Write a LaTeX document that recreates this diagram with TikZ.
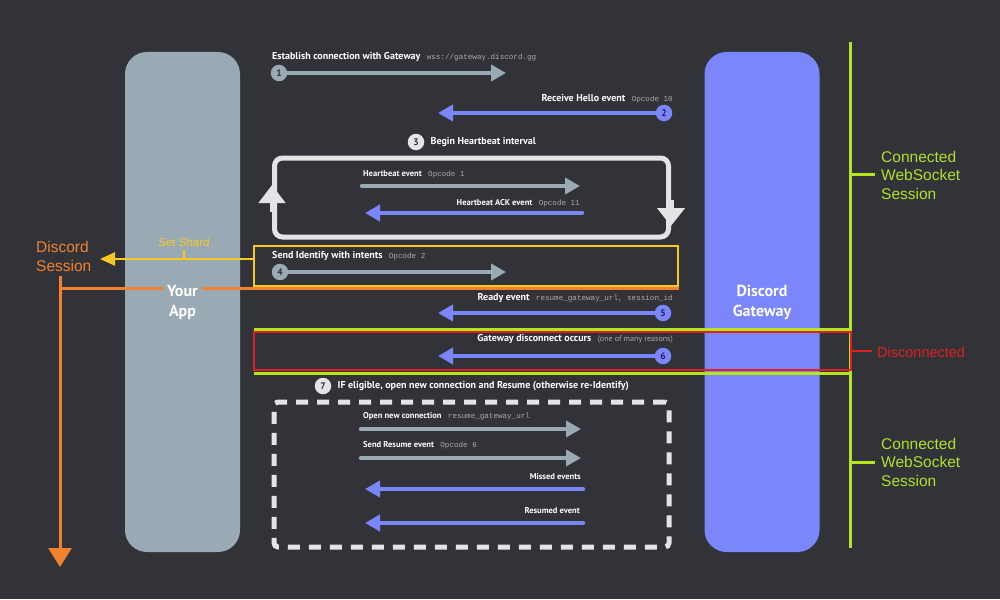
\documentclass[tikz,border=0pt]{standalone}
\usepackage{fontspec}
\setmainfont{PT Sans}
\setmonofont{Liberation Mono}
\newfontfamily\arialfont{Liberation Sans}
\usepackage{xcolor}
\usetikzlibrary{arrows.meta,positioning,calc}
\definecolor{bgdark}{RGB}{50,51,56}
\definecolor{appgray}{RGB}{153,170,181}
\definecolor{blurple}{RGB}{122,134,250}
\definecolor{loopwhite}{RGB}{228,228,228}
\definecolor{codegray}{RGB}{170,170,175}
\definecolor{shardyellow}{RGB}{250,200,35}
\definecolor{sessorange}{RGB}{242,130,45}
\definecolor{wslime}{RGB}{180,230,30}
\definecolor{wstext}{RGB}{175,225,45}
\definecolor{discred}{RGB}{222,32,32}
\definecolor{numdark}{RGB}{45,50,56}
\definecolor{numblue}{RGB}{30,32,110}

\begin{document}
\begin{tikzpicture}[x=1pt, y=-1pt,
  gar/.style={draw=appgray, line width=4.5pt, line cap=round, -{Triangle[width=16pt,length=15pt]}},
  bar/.style={draw=blurple, line width=4.5pt, line cap=round, -{Triangle[width=16pt,length=15pt]}},
  num/.style={circle, inner sep=0pt, minimum size=16.5pt, font=\bfseries\fontsize{9.5}{9.5}\selectfont},
  lbl/.style={text=white, inner sep=0pt, font=\bfseries\fontsize{10}{11}\selectfont},
  sublbl/.style={text=white, inner sep=0pt, font=\bfseries\fontsize{8.5}{10}\selectfont},
  code/.style={text=codegray, inner sep=0pt, font=\ttfamily\fontsize{7.6}{9}\selectfont},
  column/.style={rounded corners=22pt, minimum width=115pt, minimum height=500pt, inner sep=0pt},
  coltext/.style={text=white, align=center, font=\bfseries\fontsize{16}{20}\selectfont},
  side/.style={anchor=west, align=left, inner sep=0pt, font=\arialfont\fontsize{15.5}{18.5}\selectfont}
]
\fill[bgdark] (0,0) rectangle (1000,599);
\useasboundingbox (0,0) rectangle (1000,599);

\node[column, fill=appgray] (app) at (182.5,302) {};
\node[column, fill=blurple] (gw) at (762,302) {};

\node[draw=shardyellow, line width=2.5pt, minimum width=424pt, minimum height=40pt] (ident) at (466,266) {};
\coordinate (sessturn) at (60,288.5);
\coordinate (sessend) at (60,567);
\coordinate (shardtip) at (100,259);
\draw[sessorange, line width=3pt] (sessturn) -- (ident.south east |- sessturn);
\draw[sessorange, line width=3pt, -{Triangle[width=23pt,length=19pt]}] (60,276) -- (sessend);
\draw[shardyellow, line width=2.5pt, -{Triangle[width=13pt,length=15pt]}] ([yshift=7pt]ident.west) -- (shardtip);
\draw[shardyellow, line width=2pt] (184,259) -- (184,250);
\node[text=shardyellow, inner sep=0pt, font=\arialfont\fontsize{11.5}{12}\selectfont] (shard) at (184,242) {Set Shard};
\node[side, text=sessorange] (dsess) at (36,256.5) {Discord\\Session};

\node[coltext, fill=appgray, inner xsep=4pt, inner ysep=0pt] (apptxt) at (app.center) {Your\\App};
\node[coltext] (gwtxt) at ([yshift=-0.5pt]gw.center) {Discord\\Gateway};

\coordinate (wstop) at (850,42);
\coordinate (wsbot) at (850,548);
\draw[wslime, line width=3pt] (wstop) -- (wsbot);
\draw[wslime, line width=3pt] (254,329) -- (850,329);
\draw[wslime, line width=3pt] (254,373) -- (850,373);
\node[draw=discred, line width=2.5pt, minimum width=597pt, minimum height=38pt] (dis) at (552.5,351) {};
\node[side, text=wstext] (conn1) at (881,175) {Connected\\WebSocket\\Session};
\node[side, text=discred, font=\arialfont\fontsize{14.5}{17}\selectfont] (disc) at (877,352.5) {Disconnected};
\node[side, text=wstext] (conn2) at (881,462) {Connected\\WebSocket\\Session};
\draw[wslime, line width=3pt, shorten >=6pt] (850,174) -- (conn1.west |- 0,174);
\draw[discred, line width=2.5pt, shorten >=5pt] (dis.east) -- (dis.east -| disc.west);
\draw[wslime, line width=3pt, shorten >=6pt] (850,462) -- (conn2.west |- 0,462);

\node[lbl, anchor=base west] (l1) at (272,59.5) {Establish connection with Gateway};
\node[code, anchor=base west, xshift=6pt] at (l1.base east) {wss://gateway.discord.gg};
\node[num, fill=appgray, text=numdark] (n1) at (279,73) {1};
\coordinate (t1) at (506,73);
\draw[gar] (n1.east) -- (t1);

\node[code, anchor=base east] (c2) at (673,101.5) {Opcode 10};
\node[lbl, anchor=base east, xshift=-6pt] (l2) at (c2.base west) {Receive Hello event};
\node[num, fill=blurple, text=numblue] (n2) at (664,113) {2};
\coordinate (t2) at (438,113);
\draw[bar] (n2.west) -- (t2);

\node[num, fill=loopwhite, text=numdark] (n3) at (416,142) {3};
\node[lbl, anchor=west, right=6pt of n3] (l3) {Begin Heartbeat interval};

\node[draw=loopwhite, line width=5pt, rounded corners=8pt, minimum width=394pt, minimum height=79pt] (hb) at (471.5,197.5) {};
\draw[loopwhite, line width=5pt, -{Triangle[width=26pt,length=18pt]}] (hb.west |- 0,212) -- (hb.west |- 0,185);
\draw[loopwhite, line width=5pt, -{Triangle[width=27pt,length=18pt]}] (hb.east |- 0,200) -- (hb.east |- 0,226);
\node[sublbl, anchor=base west] (hb1) at (363,176.5) {Heartbeat event};
\node[code, anchor=base west, xshift=6pt] at (hb1.base east) {Opcode 1};
\coordinate (hbs1) at (362,186);
\coordinate (hbt1) at (580,186);
\draw[gar] (hbs1) -- (hbt1);
\node[code, anchor=base east] (hbc2) at (580,205) {Opcode 11};
\node[sublbl, anchor=base east, xshift=-6pt] (hb2) at (hbc2.base west) {Heartbeat ACK event};
\coordinate (hbs2) at (582,213);
\coordinate (hbt2) at (365,213);
\draw[bar] (hbs2) -- (hbt2);

\node[lbl, anchor=base west] (l4) at (272,258) {Send Identify with intents};
\node[code, anchor=base west, xshift=6pt] at (l4.base east) {Opcode 2};
\node[num, fill=appgray, text=numdark] (n4) at (280,272) {4};
\coordinate (t4) at (506,272);
\draw[gar] (n4.east) -- (t4);

\node[code, anchor=base east] (c5) at (673,300.5) {resume\_gateway\_url, session\_id};
\node[lbl, anchor=base east, xshift=-6pt] (l5) at (c5.base west) {Ready event};
\node[num, fill=blurple, text=numblue] (n5) at (663,313) {5};
\coordinate (t5) at (438,313);
\draw[bar] (n5.west) -- (t5);

\node[text=codegray, inner sep=0pt, anchor=base east, font=\fontsize{8}{9}\selectfont] (c6) at (673,341.5) {(one of many reasons)};
\node[lbl, anchor=base east, xshift=-6pt] (l6) at (c6.base west) {Gateway disconnect occurs};
\node[num, fill=blurple, text=numblue] (n6) at (663,356) {6};
\coordinate (t6) at (438,356);
\draw[bar] (n6.west) -- (t6);

\node[num, fill=loopwhite, text=numdark] (n7) at (323,386) {7};
\node[lbl, anchor=west, right=6pt of n7] (l7) {IF eligible, open new connection and Resume (otherwise re-Identify)};

\node[draw=loopwhite, line width=5pt, dash pattern=on 12pt off 9pt, rounded corners=4pt, minimum width=395pt, minimum height=145pt] (rs) at (471.5,474.5) {};
\node[sublbl, anchor=base west] (r1) at (363,418) {Open new connection};
\node[code, anchor=base west, xshift=6pt] at (r1.base east) {resume\_gateway\_url};
\coordinate (rs1) at (361,429);
\coordinate (rt1) at (581,429);
\draw[gar] (rs1) -- (rt1);
\node[sublbl, anchor=base west] (r2) at (363,447.5) {Send Resume event};
\node[code, anchor=base west, xshift=6pt] at (r2.base east) {Opcode 6};
\coordinate (rs2) at (361,458);
\coordinate (rt2) at (581,458);
\draw[gar] (rs2) -- (rt2);
\node[sublbl, anchor=base east] (r3) at (581,479.5) {Missed events};
\coordinate (rs3) at (583,489);
\coordinate (rt3) at (365,489);
\draw[bar] (rs3) -- (rt3);
\node[sublbl, anchor=base east] (r4) at (580,513.5) {Resumed event};
\coordinate (rs4) at (583,523);
\coordinate (rt4) at (365,523);
\draw[bar] (rs4) -- (rt4);
\end{tikzpicture}
\end{document}
